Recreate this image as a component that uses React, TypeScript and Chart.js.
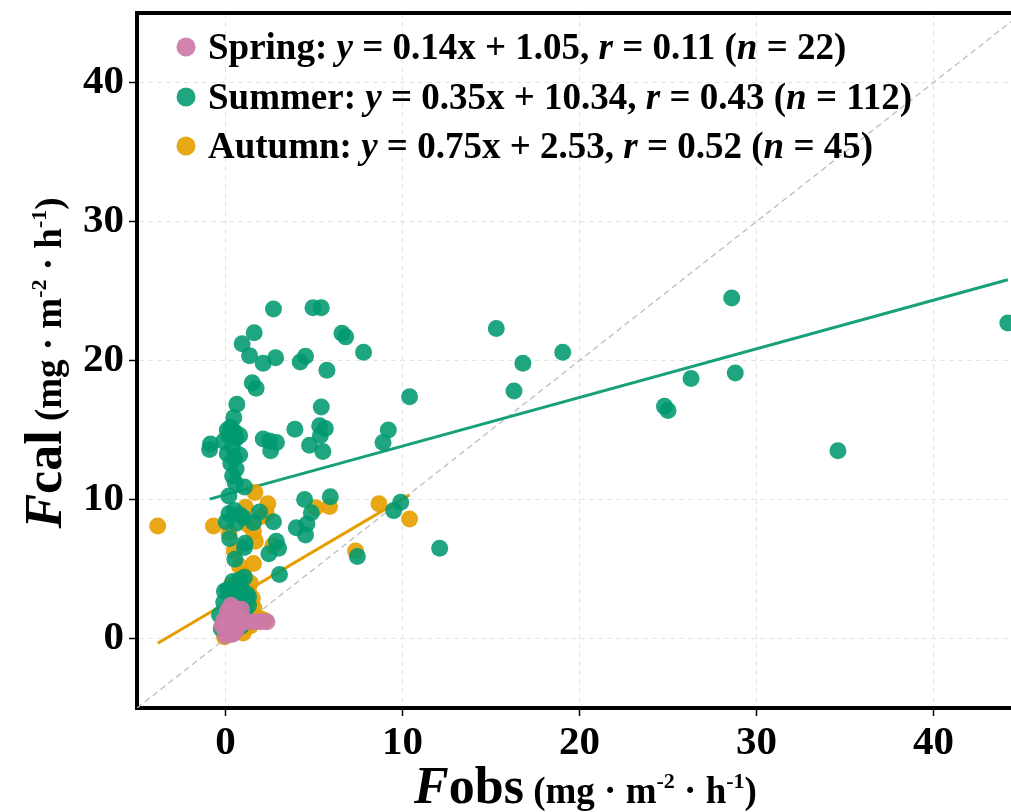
import React, { useEffect, useRef } from 'react';
import { Chart, registerables } from 'chart.js';

Chart.register(...registerables);

const FONT = '"Liberation Serif", "Times New Roman", serif';

// Axis setup
const xRange = [-5, 45];
const yRange = [-5, 45];
const xTicks = [0, 10, 20, 30, 40];
const yTicks = [0, 10, 20, 30, 40];

// Legend / regression statistics
const seasons = ['Spring', 'Summer', 'Autumn'];
const slopes = [0.14, 0.35, 0.75];
const intercepts = [1.05, 10.34, 2.53];
const rValues = [0.11, 0.43, 0.52];
const nValues = [22, 112, 45];
const colors = ['rgba(204,121,167,0.92)', 'rgba(0,154,112,0.88)', 'rgba(230,159,0,0.92)'];
const lineColors = ['#CC79A7', '#17a07a', '#E69F00'];

// Spring observations
const springX = [0.0, 0.2, 0.4, 0.6, 0.1, 0.3, 0.5, 0.8, -0.1, 0.2, 0.4, 0.7, 0.1, 0.5, 0.9, -0.2, 0.3, 1.0, 1.3, 1.7, 2.0, 2.34];
const springY = [0.2, 0.4, 0.3, 0.6, 0.8, 1.0, 1.2, 1.0, 1.3, 1.6, 1.8, 1.5, 2.0, 2.2, 2.1, 0.9, 2.4, 1.3, 1.2, 1.2, 1.2, 1.2];

// Summer observations
const summerX = [
  44.2, 28.6, 28.8, 26.3, 24.8, 25.0, 34.6, 15.3, 19.05, 16.8, 16.3, 10.4, 12.1, 9.9, 9.5, 7.45, 9.2, 8.9, 7.8,
  2.71, 4.94, 5.41, 1.62, 0.94, 1.36, 2.13, 2.83, 4.22, 4.52, 6.58, 6.79, 5.73, 1.51, 1.73, 0.64, 0.47, 5.41, 3.92,
  5.32, 5.64, 5.36, 4.75, 5.5, 2.13, 2.49, 2.88, 2.55, -0.85, -0.9,
  0.1, 0.3, 0.5, 0.8, 0.2, 0.6, -0.1, 0.4, 0.1, 0.5, 0.8, 0.3, 0.6, 0.4, 0.55, 1.07, 0.19,
  0.5, 0.8, 1.0, 0.04, 0.6, 1.92, 2.71, 1.58, 0.23, 1.11, 1.07, 2.87, 3.0, 2.45, 0.53, 3.05, 4.47, 5.92, 4.85, 4.6, 4.0, 4.52,
  1.07, 0.41, 0.8, 0.13, -0.06, 0.5, 0.9, 1.2, 0.3, 0.7, 1.0, 1.3, -0.1, 0.2, 0.6, 1.1, -0.34, 0.4, -0.24, 0.8,
  0.2, 1.3, 0.0, 0.9,
];
const summerY = [
  22.7, 24.5, 19.1, 18.7, 16.7, 16.4, 13.5, 22.3, 20.6, 19.8, 17.8, 17.4, 6.5, 9.8, 9.2, 5.9, 15.0, 14.1, 20.6,
  23.7, 23.8, 23.8, 22.0, 21.2, 20.35, 19.8, 20.2, 19.9, 20.3, 21.96, 21.7, 19.3, 18.4, 18.0, 16.85, 15.9, 16.65, 15.05,
  15.3, 15.1, 14.6, 13.9, 13.45, 14.35, 14.2, 14.1, 13.5, 14.0, 13.6,
  15.0, 15.2, 14.9, 14.6, 14.6, 14.4, 14.2, 13.8, 13.3, 13.0, 13.2, 12.6, 12.2, 11.7, 11.2, 10.9, 10.25,
  9.2, 8.9, 8.7, 8.4, 8.3, 9.1, 8.4, 8.35, 7.2, 6.85, 6.55, 7.0, 6.5, 6.1, 5.7, 4.6, 10.0, 10.2, 9.05, 8.24, 7.97, 7.45,
  4.4, 4.1, 4.2, 3.5, 3.4, 3.3, 3.6, 3.2, 2.9, 2.8, 2.6, 2.4, 2.6, 2.2, 2.1, 1.9, 1.7, 1.5, 0.7, 1.2,
  9.0, 3.0, 1.1, 0.9,
];

// Autumn observations
const autumnX = [
  -3.83, -0.68, 1.66, 2.39, 1.13, 2.07, 1.26, 1.58, 1.68, 2.68, 5.09, 5.88, 8.67, 10.4, 7.35, 1.58, 1.02, 1.51,
  1.6, 1.58, 1.8, 2.0, 2.2, 1.17, 0.8, 1.4, -0.06, 0.3, 0.5, 1.0, 0.2, 0.6, 1.2, 0.9, 0.4, 1.3, 0.7, 0.1, 1.1,
  0.3, 0.8, 0.5, 0.2, 1.4, 2.3,
];
const autumnY = [
  8.1, 8.1, 10.5, 9.7, 9.45, 8.8, 8.2, 7.7, 7.0, 6.7, 9.4, 9.5, 9.7, 8.6, 6.3, 5.4, 4.6, 2.9,
  2.2, 1.4, 1.5, 1.4, 1.3, 0.85, 0.85, 0.9, 0.13, 0.3, 0.5, 0.4, 0.9, 1.3, 1.8, 2.4, 2.0, 3.4, 3.0, 1.5, 2.9,
  3.8, 5.2, 6.3, 7.6, 4.0, 9.0,
];

const seriesX = [springX, summerX, autumnX];
const seriesY = [springY, summerY, autumnY];

type Run = { text: string; font: string; dy?: number };

function runsWidth(ctx: CanvasRenderingContext2D, runs: Run[]) {
  let w = 0;
  for (const r of runs) {
    ctx.font = r.font;
    w += ctx.measureText(r.text).width;
  }
  return w;
}

function drawRuns(ctx: CanvasRenderingContext2D, runs: Run[], x: number, y: number, center = false) {
  let cx = center ? x - runsWidth(ctx, runs) / 2 : x;
  for (const r of runs) {
    ctx.font = r.font;
    ctx.fillText(r.text, cx, y + (r.dy || 0));
    cx += ctx.measureText(r.text).width;
  }
}

function titleRuns(sym: string, sub: string): Run[] {
  const big = `bold 52px ${FONT}`;
  const bigI = `italic bold 52px ${FONT}`;
  const unit = `bold 37px ${FONT}`;
  const sup = `bold 22px ${FONT}`;
  return [
    { text: sym, font: bigI },
    { text: sub, font: big },
    { text: ' (mg · m', font: unit },
    { text: '-2', font: sup, dy: -15 },
    { text: ' · h', font: unit },
    { text: '-1', font: sup, dy: -15 },
    { text: ')', font: unit },
  ];
}

const decorPlugin = {
  id: 'decor',
  afterDraw(chart: any) {
    const ctx: CanvasRenderingContext2D = chart.ctx;
    const a = chart.chartArea;
    ctx.save();
    // frame top / right
    ctx.strokeStyle = '#000';
    ctx.lineWidth = 4;
    ctx.beginPath();
    ctx.moveTo(a.left - 2, a.top);
    ctx.lineTo(a.right, a.top);
    ctx.lineTo(a.right, a.bottom + 2);
    ctx.stroke();

    // legend
    ctx.fillStyle = '#000';
    ctx.textBaseline = 'alphabetic';
    const f = `bold 37px ${FONT}`;
    const fi = `italic bold 37px ${FONT}`;
    const rowY = [47, 97, 146];
    seasons.forEach((s, i) => {
      ctx.beginPath();
      ctx.fillStyle = colors[i];
      ctx.arc(186, rowY[i], 9.5, 0, Math.PI * 2);
      ctx.fill();
      ctx.fillStyle = '#000';
      const runs: Run[] = [
        { text: `${s}: `, font: f },
        { text: 'y', font: fi },
        { text: ` = ${slopes[i].toFixed(2)}x + ${intercepts[i].toFixed(2)}, `, font: f },
        { text: 'r', font: fi },
        { text: ` = ${rValues[i].toFixed(2)} (`, font: f },
        { text: 'n', font: fi },
        { text: ` = ${nValues[i]})`, font: f },
      ];
      drawRuns(ctx, runs, 208, rowY[i] + 12);
    });

    // axis titles
    const cxTitle = (a.left + a.right) / 2 + 6;
    drawRuns(ctx, titleRuns('F', 'obs'), cxTitle, 803, true);
    ctx.save();
    ctx.translate(61, 363);
    ctx.rotate(-Math.PI / 2);
    drawRuns(ctx, titleRuns('F', 'cal'), 0, 0, true);
    ctx.restore();
    ctx.restore();
  },
};

export default function App() {
  const ref = useRef<HTMLCanvasElement | null>(null);
  useEffect(() => {
    if (!ref.current) return;
    const pts = (i: number) => seriesX[i].map((v, k) => ({ x: v, y: seriesY[i][k] }));
    const fit = (i: number) => {
      const lo = Math.min(...seriesX[i]);
      const hi = Math.max(...seriesX[i]);
      return [lo, hi].map((v) => ({ x: v, y: slopes[i] * v + intercepts[i] }));
    };
    const pointSets = [0, 1, 2].map((i) => ({
      type: 'scatter' as const,
      label: seasons[i],
      data: pts(i),
      backgroundColor: colors[i],
      borderWidth: 0,
      pointRadius: 8.5,
      order: i + 1,
    }));
    const fitSets = [0, 1, 2].map((i) => ({
      type: 'line' as const,
      label: seasons[i] + ' fit',
      data: fit(i),
      borderColor: lineColors[i],
      borderWidth: 3,
      pointRadius: 0,
      fill: false,
      order: 6,
    }));
    const chart = new Chart(ref.current, {
      type: 'scatter',
      data: {
        datasets: [
          ...pointSets,
          ...fitSets,
          {
            type: 'line' as const,
            label: '1:1',
            data: [
              { x: xRange[0], y: yRange[0] },
              { x: xRange[1], y: yRange[1] },
            ],
            borderColor: '#bdbdbd',
            borderWidth: 1.3,
            borderDash: [6, 4],
            pointRadius: 0,
            fill: false,
            order: 10,
          },
        ] as any,
      },
      options: {
        responsive: false,
        animation: false,
        devicePixelRatio: 1,
        layout: { padding: { top: 13, right: 18, left: 0, bottom: 0 } },
        plugins: { legend: { display: false }, tooltip: { enabled: false } },
        scales: {
          x: {
            type: 'linear',
            min: xRange[0],
            max: xRange[1],
            afterBuildTicks: (s: any) => {
              s.ticks = xTicks.map((v) => ({ value: v }));
            },
            afterFit: (s: any) => {
              s.height = 104;
              s.paddingLeft = 0;
              s.paddingRight = 0;
            },
            ticks: {
              color: '#000',
              font: { family: FONT, size: 41, weight: 'bold' },
              padding: 3,
              maxRotation: 0,
              autoSkip: false,
            },
            grid: { color: '#e4e4e4', lineWidth: 1, tickColor: '#000', tickLength: 8, tickWidth: 1.5 },
            border: { display: true, color: '#000', width: 4, dash: [5, 4] },
          },
          y: {
            type: 'linear',
            min: yRange[0],
            max: yRange[1],
            afterBuildTicks: (s: any) => {
              s.ticks = yTicks.map((v) => ({ value: v }));
            },
            afterFit: (s: any) => {
              s.width = 137;
              s.paddingTop = 0;
              s.paddingBottom = 0;
            },
            ticks: {
              color: '#000',
              font: { family: FONT, size: 41, weight: 'bold' },
              padding: 5,
              autoSkip: false,
            },
            grid: { color: '#e4e4e4', lineWidth: 1, tickColor: '#000', tickLength: 8, tickWidth: 1.5 },
            border: { display: true, color: '#000', width: 4, dash: [5, 4] },
          },
        },
      } as any,
      plugins: [decorPlugin],
    });
    return () => chart.destroy();
  }, []);
  return (
    <div
      style={{
        position: 'fixed',
        left: 0,
        top: 0,
        width: 1011,
        height: 812,
        overflow: 'hidden',
        background: '#fff',
      }}
    >
      <canvas ref={ref} width={1040} height={812} style={{ width: 1040, height: 812, display: 'block' }} />
    </div>
  );
}
